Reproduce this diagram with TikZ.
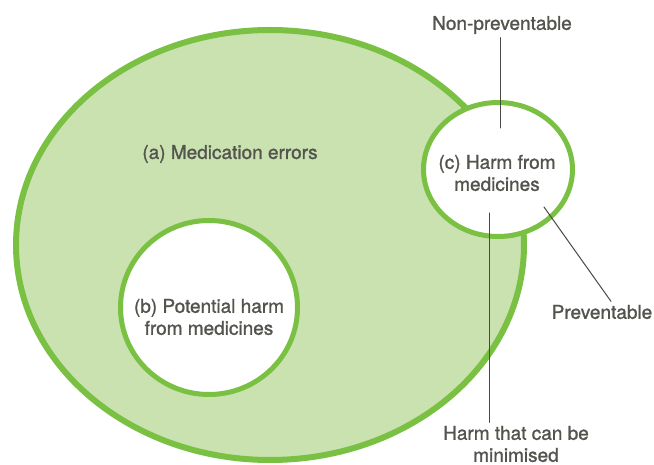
\documentclass[tikz,border=0pt]{standalone}
\usepackage{fontspec}
\setmainfont{TeX Gyre Heros}[FakeBold=1.2]
\usepackage{tikz}
\usetikzlibrary{shapes.geometric}
\definecolor{grnline}{RGB}{121,192,67}
\definecolor{grnfill}{RGB}{201,226,176}
\definecolor{txtgray}{RGB}{84,84,78}
\definecolor{lngray}{RGB}{72,72,68}
\tikzstyle{every node}=[font=\fontsize{19}{22}\selectfont, text=txtgray, align=center]
\tikzstyle{setshape}=[ellipse, draw=grnline, inner sep=0pt]
\tikzstyle{pointer}=[lngray, line width=1pt]

\begin{document}
\begin{tikzpicture}[line cap=round,line join=round,x=1pt,y=-1pt]

            \useasboundingbox (0,0) rectangle (654,465);
            % the three sets
            \node[setshape, line width=6pt, fill=grnfill, minimum width=508, minimum height=430] (errors) at (270,245) {};
            \node[setshape, line width=5pt, fill=white, minimum width=177, minimum height=174] (potential) at (209,307.5) {};
            \node[setshape, line width=5pt, fill=white, minimum width=149, minimum height=134] (harm) at (498,169.5) {};
            % labels
            \node (errlab) at (230,154) {(a) Medication errors};
            \node (potlab) at (209,317) {(b) Potential harm\\from medicines};
            \node (harmlab) at (497,173) {(c) Harm from\\medicines};
            \node (nonprev) at (502,25) {Non-preventable};
            \node (prev) at (602,312) {Preventable};
            \node (minim) at (516,444) {Harm that can be\\minimised};
            % pointers
            \coordinate (npin) at (500,128);
            \coordinate (previn) at (544,207);
            \coordinate (minin) at (489,213);
            \draw[pointer] (nonprev.south -| npin) -- (npin);
            \draw[pointer] ([xshift=9pt]prev.north) -- (previn);
            \draw[pointer] (minim.north -| minin) -- (minin);
            \end{tikzpicture}
\end{document}
